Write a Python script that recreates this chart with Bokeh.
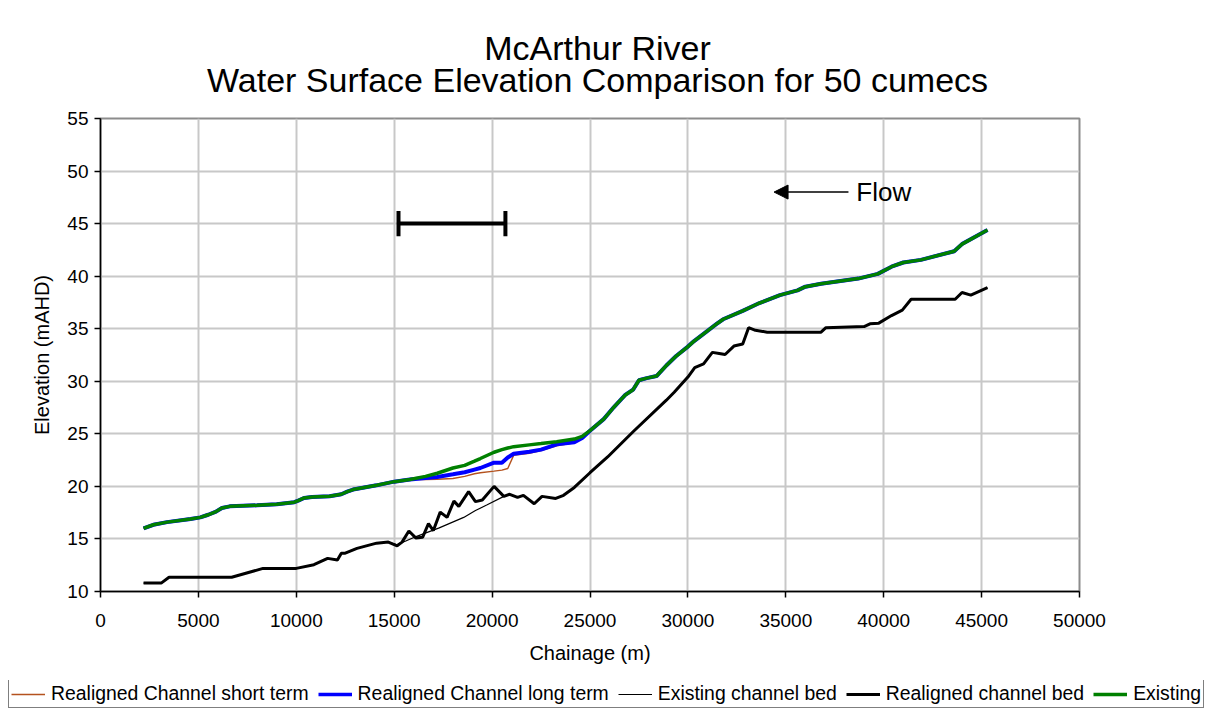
from bokeh.plotting import figure
from bokeh.layouts import column
from bokeh.models import (Legend, LegendItem, FixedTicker, Arrow, NormalHead,
                          Label, Range1d)
from bokeh.embed import file_html
from bokeh.resources import INLINE

# ---------------- data ----------------
chain_ws = [2200, 2700, 3400, 4600, 5100, 5500, 5900, 6200, 6600, 8000, 9000, 9900, 10100,
            10400, 10800, 11700, 12300, 12600, 12900, 14100, 15000, 15800, 16600, 17200,
            18000, 18600, 19100, 19400, 20100, 20500, 20800, 21100, 21900, 22500, 23300,
            24200, 24600, 25000, 25700, 26200, 26600, 26800, 27200, 27500, 27900, 28400,
            28900, 29400, 30000, 30300, 31000, 31500, 31800, 32800, 33600, 34700, 35600,
            36000, 36800, 38700, 39700, 40400, 41000, 41900, 43600, 44000, 45300]

ws_existing = [16.0, 16.35, 16.6, 16.9, 17.05, 17.3, 17.6, 17.95, 18.1, 18.2, 18.3, 18.5, 18.65,
               18.9, 19.0, 19.07, 19.25, 19.5, 19.7, 20.1, 20.45, 20.65, 20.95, 21.25,
               21.75, 22.0, 22.4, 22.65, 23.25, 23.5, 23.65, 23.78, 23.95, 24.07, 24.25,
               24.5, 24.75, 25.3, 26.4, 27.5, 28.3, 28.7, 29.2, 30.1, 30.3, 30.5,
               31.5, 32.4, 33.3, 33.8, 34.8, 35.5, 35.9, 36.7, 37.4, 38.2, 38.65,
               39.0, 39.27, 39.77, 40.22, 40.9, 41.3, 41.55, 42.37, 43.05, 44.4]

ws_long_term = [16.0, 16.35, 16.6, 16.9, 17.05, 17.3, 17.6, 17.95, 18.1, 18.2, 18.3, 18.5, 18.65,
                18.9, 19.0, 19.07, 19.25, 19.5, 19.7, 20.1, 20.45, 20.65, 20.8, 20.9,
                21.15, 21.35, 21.6, 21.75, 22.25, 22.25, 22.75, 23.1, 23.3, 23.5, 24.0,
                24.2, 24.6, 25.3, 26.4, 27.5, 28.3, 28.7, 29.2, 30.1, 30.3, 30.5,
                31.5, 32.4, 33.3, 33.8, 34.8, 35.5, 35.9, 36.7, 37.4, 38.2, 38.65,
                39.0, 39.27, 39.77, 40.22, 40.9, 41.3, 41.55, 42.37, 43.05, 44.4]

ws_short_term = [16.0, 16.35, 16.6, 16.9, 17.05, 17.3, 17.6, 17.95, 18.1, 18.2, 18.3, 18.5, 18.65,
                 18.9, 19.0, 19.07, 19.25, 19.5, 19.7, 20.1, 20.45, 20.65, 20.65, 20.68,
                 20.75, 20.95, 21.2, 21.3, 21.45, 21.55, 21.7, 22.95, 23.15, 23.4, 23.85,
                 24.15, 24.6, 25.3, 26.4, 27.5, 28.3, 28.7, 29.2, 30.1, 30.3, 30.5,
                 31.5, 32.4, 33.3, 33.8, 34.8, 35.5, 35.9, 36.7, 37.4, 38.2, 38.65,
                 39.0, 39.27, 39.77, 40.22, 40.9, 41.3, 41.55, 42.37, 43.05, 44.4]

chain_rb = [2200, 3100, 3500, 6700, 8300, 10000, 10900, 11600, 12100, 12300, 12500, 13100,
            14100, 14700, 15150, 15400, 15750, 16100, 16450, 16750, 17000, 17350, 17700,
            18050, 18300, 18800, 19150, 19500, 20100, 20600, 20900, 21300, 21600, 22150,
            22550, 23250, 23650, 24200, 25000, 25900, 27200, 28900, 29300, 30000, 30350,
            30800, 31250, 31600, 31900, 32350, 32800, 33100, 33450, 34050, 36800, 37050,
            39000, 39300, 39750, 40400, 40950, 41400, 43650, 44000, 44450, 45300]
bed_realigned = [10.8, 10.8, 11.35, 11.35, 12.2, 12.2, 12.55, 13.15, 13.0, 13.65, 13.65, 14.1,
                 14.6, 14.7, 14.35, 14.7, 15.75, 15.1, 15.15, 16.45, 15.8, 17.55, 17.05,
                 18.6, 18.1, 19.5, 18.55, 18.7, 20.0, 19.05, 19.25, 18.95, 19.15, 18.35,
                 19.05, 18.85, 19.15, 19.9, 21.3, 22.8, 25.2, 28.2, 28.95, 30.4, 31.3,
                 31.65, 32.75, 32.65, 32.55, 33.35, 33.55, 35.1, 34.85, 34.67, 34.67, 35.1,
                 35.2, 35.47, 35.53, 36.25, 36.77, 37.8, 37.8, 38.45, 38.2, 38.9]

chain_eb = [2200, 3100, 3500, 6700, 8300, 10000, 10900, 11600, 12100, 12300, 12500, 13100,
            14100, 14700, 15150, 16150, 17300, 18550, 19150, 19750, 20600, 20900, 21300,
            21600, 22150, 22550, 23250, 23650, 24200, 25000, 25900, 27200, 28900, 29300,
            30000, 30350, 30800, 31250, 31600, 31900, 32350, 32800, 33100, 33450, 34050,
            36800, 37050, 39000, 39300, 39750, 40400, 40950, 41400, 43650, 44000, 44450, 45300]
bed_existing = [10.8, 10.8, 11.35, 11.35, 12.2, 12.2, 12.55, 13.15, 13.0, 13.65, 13.65, 14.1,
                14.6, 14.7, 14.45, 15.25, 16.05, 17.05, 17.7, 18.25, 19.05, 19.25, 18.95,
                19.15, 18.35, 19.05, 18.85, 19.15, 19.9, 21.3, 22.8, 25.2, 28.2, 28.95,
                30.4, 31.3, 31.65, 32.75, 32.65, 32.55, 33.35, 33.55, 35.1, 34.85, 34.67,
                34.67, 35.1, 35.2, 35.47, 35.53, 36.25, 36.77, 37.8, 37.8, 38.45, 38.2, 38.9]

title_lines = ["McArthur River", "Water Surface Elevation Comparison for 50 cumecs"]
series_labels = ["Realigned Channel short term", "Realigned Channel long term",
                 "Existing channel bed", "Realigned channel bed", "Existing"]
series_colors = ["#b4521e", "#0000ff", "black", "black", "#008000"]
series_widths = [1.4, 4, 1.2, 3, 3.5]

x_ticks = list(range(0, 50001, 5000))
y_ticks = list(range(10, 56, 5))

# reach bracket and flow arrow annotation values
bracket_x = [15220, 20680]
bracket_y = 45
bracket_half = 1.2
flow_x = [34400, 38200]
flow_y = 48.0
flow_label_x = 38600

FONT = "Liberation Sans"
W = 1215
TITLE_H = 100

# ---------------- title strip ----------------
tf = figure(width=W, height=TITLE_H, output_backend="svg", toolbar_location=None,
            x_range=Range1d(0, 1), y_range=Range1d(0, 1), min_border=0,
            x_axis_location=None, y_axis_location=None,
            background_fill_color="white", border_fill_color="white")
tf.grid.visible = False
tf.outline_line_color = None
tf.frame_align = False
tf.add_layout(Label(x=597, y=TITLE_H - 47, x_units="screen", y_units="screen",
                    text=title_lines[0], text_align="center", text_baseline="middle",
                    text_font=FONT, text_font_size="34px", text_color="black"))
tf.add_layout(Label(x=597, y=TITLE_H - 79, x_units="screen", y_units="screen",
                    text=title_lines[1], text_align="center", text_baseline="middle",
                    text_font=FONT, text_font_size="34px", text_color="black"))

# ---------------- main plot ----------------
p = figure(width=W, height=680 - TITLE_H, output_backend="svg", toolbar_location=None,
           x_range=Range1d(0, 50000), y_range=Range1d(10, 55),
           min_border_left=100, min_border_right=W - 1079, min_border_top=118 - TITLE_H,
           min_border_bottom=89, background_fill_color="white",
           border_fill_color="white")
p.title = None
p.frame_align = False

p.outline_line_color = "#8c8c8c"
p.outline_line_width = 2

for ax in (p.xaxis[0], p.yaxis[0]):
    ax.major_label_text_font = FONT
    ax.major_label_text_font_size = "19px"
    ax.major_label_text_color = "black"
    ax.axis_label_text_font = FONT
    ax.axis_label_text_font_size = "20px"
    ax.axis_label_text_font_style = "normal"
    ax.axis_label_text_color = "black"
    ax.axis_line_color = "black"
    ax.axis_line_width = 1.5
    ax.major_tick_line_color = "black"
    ax.major_tick_line_width = 1.5
    ax.major_tick_out = 6
    ax.major_tick_in = 0
    ax.minor_tick_line_color = None

p.xaxis.ticker = FixedTicker(ticks=x_ticks)
p.yaxis.ticker = FixedTicker(ticks=y_ticks)
p.xaxis.axis_label = "Chainage (m)"
p.yaxis.axis_label = "Elevation (mAHD)"
p.xaxis.major_label_standoff = 16
p.yaxis.major_label_standoff = 6
p.xaxis.axis_label_standoff = 12
p.yaxis.axis_label_standoff = 11

p.xgrid.ticker = FixedTicker(ticks=x_ticks)
p.ygrid.ticker = FixedTicker(ticks=y_ticks)
p.grid.grid_line_color = "#c8c8c8"
p.grid.grid_line_width = 2

r_short = p.line(chain_ws, ws_short_term, line_color=series_colors[0], line_width=series_widths[0])
r_long = p.line(chain_ws, ws_long_term, line_color=series_colors[1], line_width=series_widths[1])
r_ebed = p.line(chain_eb, bed_existing, line_color=series_colors[2], line_width=series_widths[2])
r_rbed = p.line(chain_rb, bed_realigned, line_color=series_colors[3], line_width=series_widths[3])
r_exist = p.line(chain_ws, ws_existing, line_color=series_colors[4], line_width=series_widths[4])

# reach bracket
p.segment(x0=[bracket_x[0], bracket_x[0], bracket_x[1]],
          y0=[bracket_y, bracket_y - bracket_half, bracket_y - bracket_half],
          x1=[bracket_x[1], bracket_x[0], bracket_x[1]],
          y1=[bracket_y, bracket_y + bracket_half, bracket_y + bracket_half],
          line_color="black", line_width=4)

# flow arrow
p.add_layout(Arrow(end=NormalHead(size=14, fill_color="black", line_color="black"),
                   x_start=flow_x[1], y_start=flow_y, x_end=flow_x[0], y_end=flow_y,
                   line_color="black", line_width=1.5))
p.add_layout(Label(x=flow_label_x, y=flow_y, text="Flow", text_baseline="middle",
                   text_align="left", text_font=FONT, text_font_size="26px",
                   text_color="black"))

# ---------------- legend strip ----------------
lf = figure(width=W, height=29, output_backend="svg", toolbar_location=None,
            x_range=Range1d(0, 1), y_range=Range1d(0, 1), min_border=0,
            x_axis_location=None, y_axis_location=None,
            background_fill_color="white", border_fill_color="white")
lf.grid.visible = False
lf.outline_line_color = None
lf.frame_align = False
items = []
for lab, col, lw in zip(series_labels, series_colors, series_widths):
    # proxy line kept outside the strip's range: only its legend swatch shows
    r = lf.line(x=[5, 6], y=[5, 5], line_color=col, line_width=min(lw, 3.5))
    items.append(LegendItem(label=lab, renderers=[r]))

legend = Legend(items=items, orientation="horizontal", location=(8, 1),
                label_text_font=FONT, label_text_font_size="19.4px",
                label_text_color="black", glyph_width=34, glyph_height=20,
                label_height=20, label_standoff=6, spacing=9, padding=2, margin=0,
                border_line_color="black", border_line_width=1,
                background_fill_color="white", background_fill_alpha=1)
lf.add_layout(legend)

layout = column(tf, p, lf, spacing=0)
open("out.html", "w").write(file_html(layout, INLINE))
